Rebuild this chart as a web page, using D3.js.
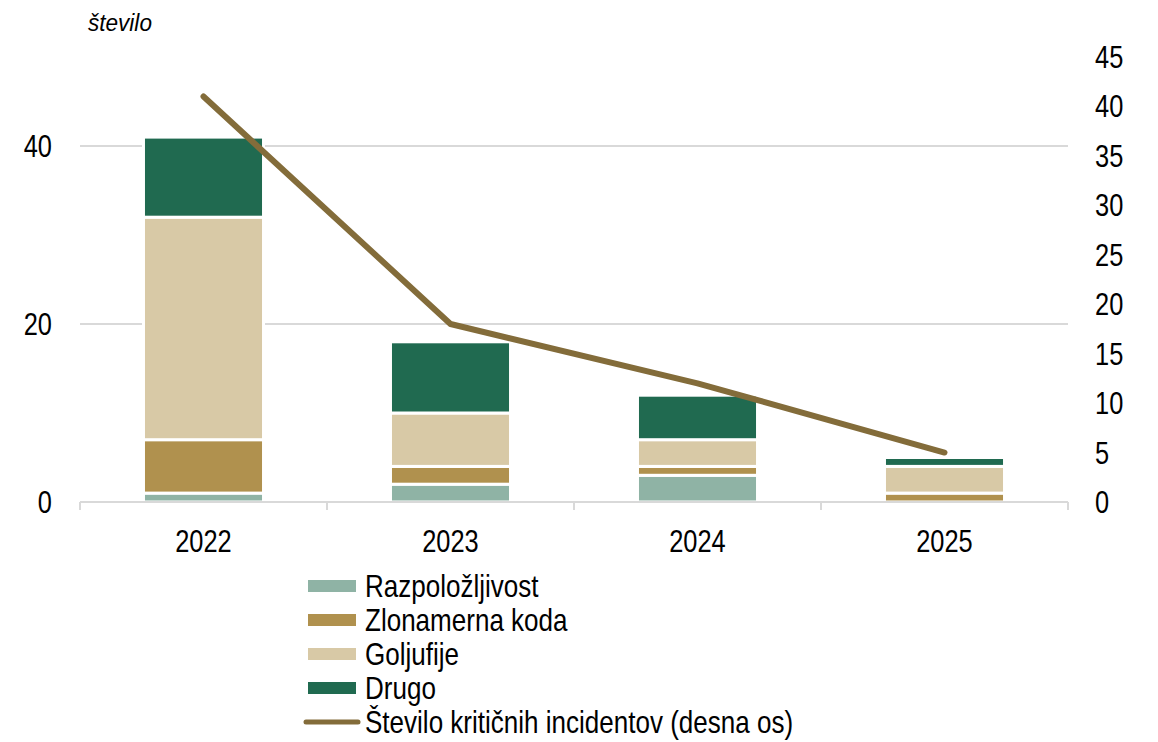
<!DOCTYPE html>
<html><head><meta charset="utf-8">
<script src="https://cdn.jsdelivr.net/npm/d3@7"></script>
<style>
body{margin:0;background:#fff;}
text{font-family:"Liberation Sans Narrow","Arial Narrow","Liberation Sans",Arial,sans-serif;fill:#000;}
</style></head>
<body><svg id="c" width="1158" height="742"></svg>
<script>
const years = ["2022","2023","2024","2025"];
const seriesNames = ["Razpoložljivost","Zlonamerna koda","Goljufije","Drugo"];
const razpolozljivost = [1,2,3,0];
const zlonamerna = [6,2,1,1];
const goljufije = [25,6,3,3];
const drugo = [9,8,5,1];
const kriticni = [41,18,12,5];
const lineName = "Število kritičnih incidentov (desna os)";
const leftTicks = [0,20,40];
const rightTicks = [0,5,10,15,20,25,30,35,40,45];
const colors = ["#8fb3a5","#b0914e","#d8c9a6","#206a50"];
const lineColor = "#836c3a";

const svg = d3.select("#c");
const x0 = 80, x1 = 1068, yBot = 502, yTop = 57;
const x = d3.scaleBand().domain(years).range([x0,x1]).paddingInner(0.514).paddingOuter(0.257);
const yL = d3.scaleLinear().domain([0,50]).range([yBot,yTop]);
const yR = d3.scaleLinear().domain([0,45]).range([yBot,yTop]);

function txt(g, tx, ty, s, size, sx, anchor){
  return g.append("text").attr("transform",`translate(${tx},${ty}) scale(${sx},1)`)
    .attr("font-size",size).attr("text-anchor",anchor||"start").text(s);
}

// gridlines
svg.append("g").selectAll("line").data(leftTicks.filter(d=>d>0)).join("line")
  .attr("x1",x0).attr("x2",x1).attr("y1",d=>yL(d)).attr("y2",d=>yL(d))
  .attr("stroke","#d9d9d9").attr("stroke-width",2);

// stacked bars
const rows = years.map((y,i)=>({year:y, s0:razpolozljivost[i], s1:zlonamerna[i], s2:goljufije[i], s3:drugo[i]}));
const stack = d3.stack().keys(["s0","s1","s2","s3"])(rows);
svg.append("g").selectAll("g").data(stack).join("g")
  .attr("fill",(d,i)=>colors[i])
  .selectAll("rect").data(d=>d.filter(p=>p[1]-p[0]>0)).join("rect")
  .attr("x",d=>x(d.data.year)).attr("width",x.bandwidth())
  .attr("y",d=>yL(d[1])).attr("height",d=>yL(d[0])-yL(d[1]))
  .attr("stroke","#fff").attr("stroke-width",3);

// x axis
const xa = svg.append("g").attr("transform",`translate(0,${yBot})`);
xa.append("line").attr("x1",x0).attr("x2",x1).attr("stroke","#d9d9d9").attr("stroke-width",2);
const tickXs = [0,1,2,3,4].map(i=>x0+i*(x1-x0)/4);
xa.selectAll("line.t").data(tickXs).join("line").attr("class","t")
  .attr("x1",d=>d).attr("x2",d=>d).attr("y1",0).attr("y2",8)
  .attr("stroke","#d9d9d9").attr("stroke-width",2);
years.forEach(d=>txt(xa, x(d)+x.bandwidth()/2, 50, d, 31, 0.82, "middle"));

// left axis labels
const la = svg.append("g");
leftTicks.forEach(d=>txt(la, 52, yL(d)+11, d, 31, 0.82, "end"));
// right axis labels
const ra = svg.append("g");
rightTicks.forEach(d=>txt(ra, 1095, yR(d)+11, d, 31, 0.82, "start"));

// unit label
txt(svg, 88, 31, "število", 24, 0.94, "start").attr("font-style","italic");

// line
const line = d3.line().x((d,i)=>x(years[i])+x.bandwidth()/2).y(d=>yR(d));
svg.append("path").datum(kriticni).attr("d",line).attr("fill","none")
  .attr("stroke",lineColor).attr("stroke-width",6).attr("stroke-linecap","round").attr("stroke-linejoin","round");

// legend
const lg = svg.append("g");
const ly0 = 586, ldy = 34;
seriesNames.forEach((n,i)=>{
  lg.append("rect").attr("x",308).attr("y",ly0+i*ldy-6).attr("width",48).attr("height",12).attr("fill",colors[i]);
  txt(lg, 365, ly0+i*ldy+11, n, 31, 0.84, "start");
});
const lly = ly0+4*ldy;
lg.append("line").attr("x1",306).attr("x2",358).attr("y1",lly).attr("y2",lly)
  .attr("stroke",lineColor).attr("stroke-width",5).attr("stroke-linecap","round");
txt(lg, 365, lly+11, lineName, 31, 0.84, "start");
</script></body></html>
